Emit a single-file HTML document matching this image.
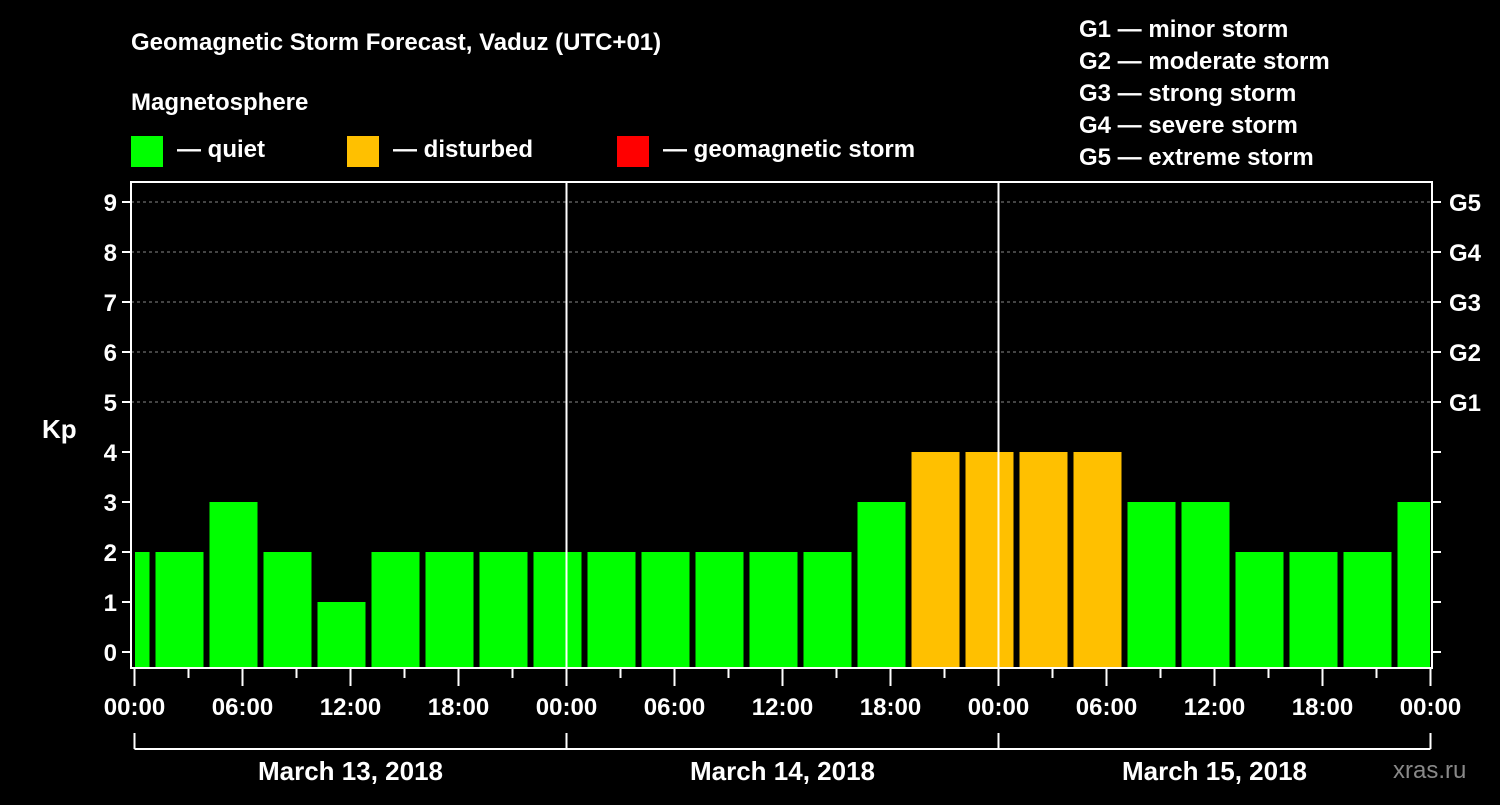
<!DOCTYPE html>
<html><head><meta charset="utf-8"><style>
body{margin:0;background:#000;width:1500px;height:800px;overflow:hidden}
svg text{font-family:"Liberation Sans",Arial,sans-serif;font-weight:bold;fill:#fff}
</style></head><body>
<svg id="c" width="1500" height="800">
<text x="131" y="50" font-size="24">Geomagnetic Storm Forecast, Vaduz (UTC+01)</text>
<text x="131" y="110" font-size="24">Magnetosphere</text>
<rect x="131" y="136" width="32" height="31" fill="#00ff00"/>
<text x="177" y="157" font-size="24">— quiet</text>
<rect x="347" y="136" width="32" height="31" fill="#ffc000"/>
<text x="393" y="157" font-size="24">— disturbed</text>
<rect x="617" y="136" width="32" height="31" fill="#ff0000"/>
<text x="663" y="157" font-size="24">— geomagnetic storm</text>
<g font-size="24">
<text x="1079" y="37">G1 — minor storm</text>
<text x="1079" y="69">G2 — moderate storm</text>
<text x="1079" y="101">G3 — strong storm</text>
<text x="1079" y="133">G4 — severe storm</text>
<text x="1079" y="165">G5 — extreme storm</text>
</g>
<text x="42" y="438" font-size="26">Kp</text>
<text x="1393" y="778" font-size="24" fill="#888" style="fill:#888;font-weight:normal">xras.ru</text>
<g id="plot"></g>
</svg>
<script>
const startHours=[-2,1,4,7,10,13,16,19,22,25,28,31,34,37,40,43,46,49,52,55,58,61,64,67,70];
const kpValues=[2,2,3,2,1,2,2,2,2,2,2,2,2,2,3,4,4,4,4,3,3,2,2,2,3];
const yTicks=[0,1,2,3,4,5,6,7,8,9];
const gLabels=["G1","G2","G3","G4","G5"];
const xTickLabels=["00:00","06:00","12:00","18:00","00:00","06:00","12:00","18:00","00:00","06:00","12:00","18:00","00:00"];
const dateLabels=["March 13, 2018","March 14, 2018","March 15, 2018"];
const NS="http://www.w3.org/2000/svg";
const X0=134.5,PXH=18,L=131,R=1432,T=182,B=668;
const xs=h=>X0+h*PXH;
const ys=k=>652-k*50;
const g=document.getElementById('plot');
function mk(t,a){const e=document.createElementNS(NS,t);for(const k in a)e.setAttribute(k,a[k]);g.appendChild(e);return e;}
// gridlines
for(let k=5;k<=9;k++){const e=mk('line',{x1:L,x2:R,y1:ys(k),y2:ys(k),stroke:'#888','stroke-dasharray':'3,3','stroke-width':1});

}
// bars
startHours.forEach((h,i)=>{let x1=Math.max(xs(h)+3,L+4),x2=Math.min(xs(h+3)-3,R-2);const v=kpValues[i];
const c=v>=5?'#ff0000':v>=4?'#ffc000':'#00ff00';
const e=mk('rect',{x:x1,y:ys(v),width:x2-x1,height:B-ys(v),fill:c});

});
// day separators
[24,48].forEach(h=>{const e=mk('line',{x1:xs(h),x2:xs(h),y1:T,y2:B,stroke:'#fff','stroke-width':2});

});
// frame
const f=mk('rect',{x:L,y:T,width:R-L,height:B-T,fill:'none',stroke:'#fff','stroke-width':2});


// y ticks
yTicks.forEach(k=>{mk('line',{x1:L-9,x2:L,y1:ys(k),y2:ys(k),stroke:'#fff','stroke-width':2});
mk('line',{x1:R,x2:R+9,y1:ys(k),y2:ys(k),stroke:'#fff','stroke-width':2});
const t=mk('text',{x:L-14,y:ys(k)+9,'text-anchor':'end','font-size':24});t.textContent=k;

});
gLabels.forEach((s,i)=>{const t=mk('text',{x:1449,y:ys(5+i)+9,'font-size':24});t.textContent=s;

});
// x ticks
for(let h=0;h<=72;h+=3){const major=h%6==0;mk('line',{x1:xs(h),x2:xs(h),y1:B,y2:major?686:678,stroke:'#fff','stroke-width':2});}
xTickLabels.forEach((s,i)=>{const t=mk('text',{x:xs(i*6),y:715,'text-anchor':'middle','font-size':24});t.textContent=s;

});
// date brackets
mk('line',{x1:xs(0),x2:xs(72),y1:749,y2:749,stroke:'#fff','stroke-width':2});
[0,24,48,72].forEach(h=>mk('line',{x1:xs(h),x2:xs(h),y1:733,y2:749,stroke:'#fff','stroke-width':2}));
dateLabels.forEach((s,i)=>{const t=mk('text',{x:xs(i*24+12),y:780,'text-anchor':'middle','font-size':26});t.textContent=s;

});
</script>
</body></html>
